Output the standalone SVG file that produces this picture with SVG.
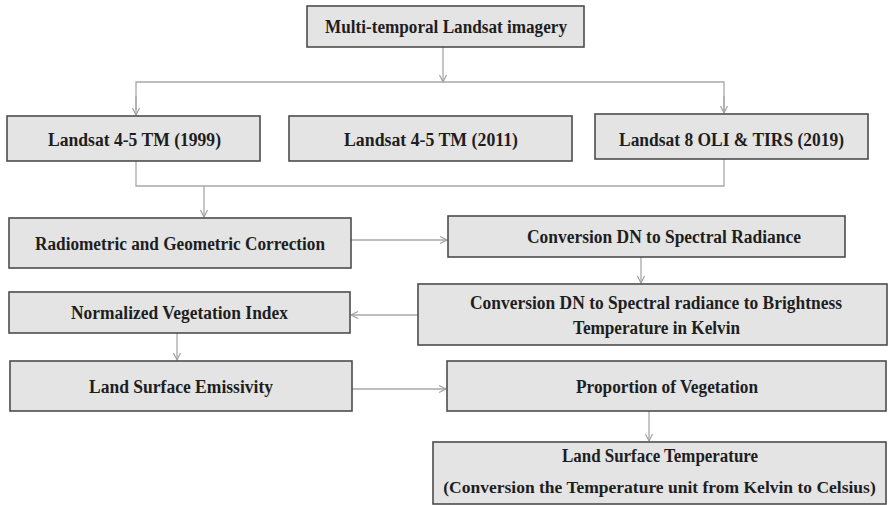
<svg xmlns="http://www.w3.org/2000/svg" width="888" height="505" viewBox="0 0 888 505">
<style>
.box{fill:#e4e4e4;stroke:#4d4d4d;stroke-width:1.6}
.t{font-family:"Liberation Serif","Times New Roman",serif;font-size:18.5px;font-weight:bold;fill:#1e1e1e;text-anchor:middle}
.c{fill:none;stroke:#a8a8a8;stroke-width:1.3}
</style>
<defs>
<marker id="ah" markerUnits="userSpaceOnUse" markerWidth="10" markerHeight="10" refX="8" refY="4" orient="auto">
<path d="M1,0.5 L8,4 L1,7.5" fill="none" stroke="#a0a0a0" stroke-width="1.2"/>
</marker>
</defs>
<rect width="888" height="505" fill="#ffffff"/>
<g id="connectors">
<line class="c" x1="443" y1="47" x2="443" y2="82" marker-end="url(#ah)"/>
<polyline class="c" points="136,110 136,82 724,82 724,113"/>
<line class="c" x1="136" y1="96" x2="136" y2="115" marker-end="url(#ah)"/>
<line class="c" x1="724" y1="96" x2="724" y2="113" marker-end="url(#ah)"/>
<polyline class="c" points="136,161 136,186 724,186 724,159"/>
<line class="c" x1="204" y1="186" x2="204" y2="217" marker-end="url(#ah)"/>
<line class="c" x1="351" y1="240" x2="447" y2="240" marker-end="url(#ah)"/>
<line class="c" x1="641" y1="257" x2="641" y2="283" marker-end="url(#ah)"/>
<line class="c" x1="418" y1="315" x2="351" y2="315" marker-end="url(#ah)"/>
<line class="c" x1="177" y1="333" x2="177" y2="360" marker-end="url(#ah)"/>
<line class="c" x1="352" y1="389" x2="446" y2="389" marker-end="url(#ah)"/>
<line class="c" x1="649" y1="411" x2="649" y2="441" marker-end="url(#ah)"/>
</g>
<g id="n-multi"><rect class="box" x="307" y="6" width="277" height="41"/><text class="t" x="446" y="33" textLength="242" lengthAdjust="spacingAndGlyphs">Multi-temporal Landsat imagery</text></g>
<g id="n-l1999"><rect class="box" x="7" y="116" width="253" height="45"/><text class="t" x="134.5" y="146" textLength="173" lengthAdjust="spacingAndGlyphs">Landsat 4-5 TM (1999)</text></g>
<g id="n-l2011"><rect class="box" x="289" y="116" width="283" height="45"/><text class="t" x="431" y="146" textLength="174" lengthAdjust="spacingAndGlyphs">Landsat 4-5 TM (2011)</text></g>
<g id="n-l8"><rect class="box" x="595" y="114" width="273" height="45"/><text class="t" x="731.5" y="146" textLength="225" lengthAdjust="spacingAndGlyphs">Landsat 8 OLI &amp; TIRS (2019)</text></g>
<g id="n-radio"><rect class="box" x="9" y="218" width="342" height="50"/><text class="t" x="180" y="250" textLength="290" lengthAdjust="spacingAndGlyphs">Radiometric and Geometric Correction</text></g>
<g id="n-dn"><rect class="box" x="448" y="216" width="397" height="41"/><text class="t" x="664" y="243" textLength="274" lengthAdjust="spacingAndGlyphs">Conversion DN to Spectral Radiance</text></g>
<g id="n-bt"><rect class="box" x="418" y="284" width="469" height="61"/><text class="t" x="656" y="309" textLength="372" lengthAdjust="spacingAndGlyphs">Conversion DN to Spectral radiance to Brightness</text><text class="t" x="656.5" y="334" textLength="167" lengthAdjust="spacingAndGlyphs">Temperature in Kelvin</text></g>
<g id="n-nvi"><rect class="box" x="9" y="292" width="341" height="41"/><text class="t" x="179.5" y="319" textLength="217" lengthAdjust="spacingAndGlyphs">Normalized Vegetation Index</text></g>
<g id="n-lse"><rect class="box" x="10" y="361" width="342" height="50"/><text class="t" x="181" y="393" textLength="184" lengthAdjust="spacingAndGlyphs">Land Surface Emissivity</text></g>
<g id="n-pv"><rect class="box" x="447" y="361" width="439" height="50"/><text class="t" x="667" y="393" textLength="182" lengthAdjust="spacingAndGlyphs">Proportion of Vegetation</text></g>
<g id="n-lst"><rect class="box" x="433" y="442" width="453" height="62"/><text class="t" x="660" y="462" textLength="196" lengthAdjust="spacingAndGlyphs">Land Surface Temperature</text><text class="t" x="659.5" y="493" style="font-size:17.5px">(Conversion the Temperature unit from Kelvin to Celsius)</text></g>
</svg>
